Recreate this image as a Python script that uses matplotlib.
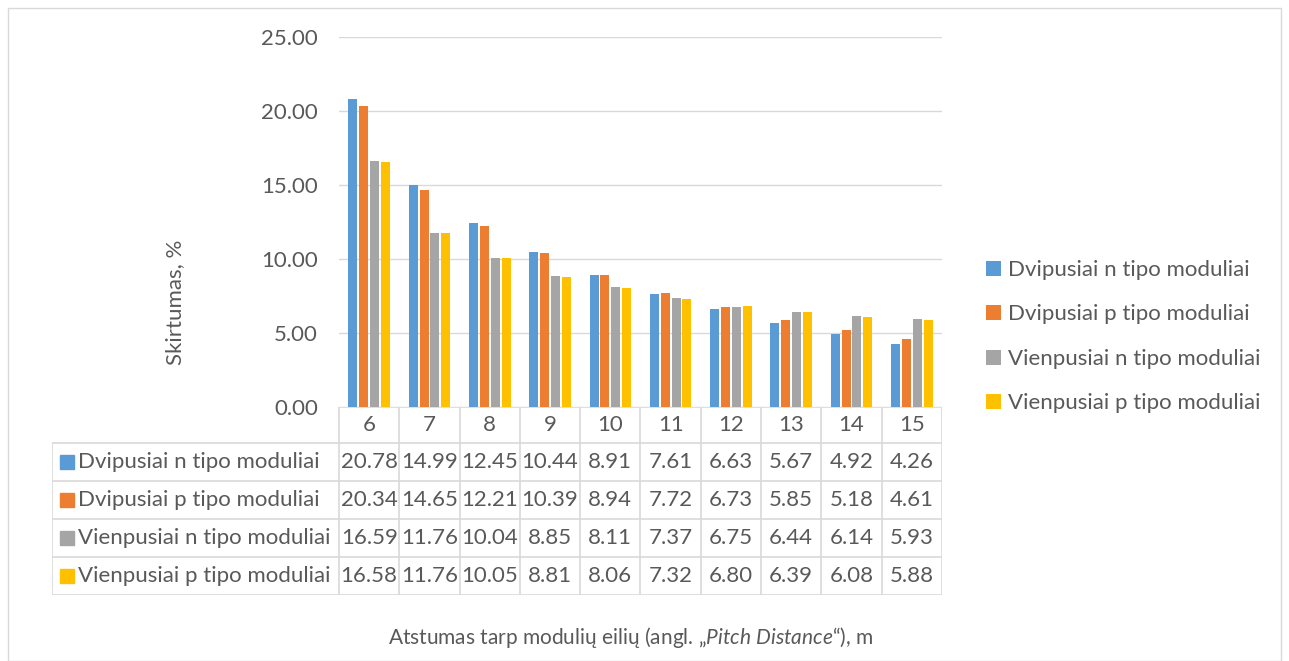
import numpy as np
import matplotlib.pyplot as plt
from matplotlib.patches import Rectangle

plt.rcParams['font.family'] = ['Lato', 'DejaVu Sans']
plt.rcParams['mathtext.fontset'] = 'custom'
plt.rcParams['mathtext.it'] = 'Lato:italic'
plt.rcParams['mathtext.rm'] = 'Lato'

distances = [6, 7, 8, 9, 10, 11, 12, 13, 14, 15]
series_names = ['Dvipusiai n tipo moduliai', 'Dvipusiai p tipo moduliai',
                'Vienpusiai n tipo moduliai', 'Vienpusiai p tipo moduliai']
dvi_n = [20.78, 14.99, 12.45, 10.44, 8.91, 7.61, 6.63, 5.67, 4.92, 4.26]
dvi_p = [20.34, 14.65, 12.21, 10.39, 8.94, 7.72, 6.73, 5.85, 5.18, 4.61]
vien_n = [16.59, 11.76, 10.04, 8.85, 8.11, 7.37, 6.75, 6.44, 6.14, 5.93]
vien_p = [16.58, 11.76, 10.05, 8.81, 8.06, 7.32, 6.80, 6.39, 6.08, 5.88]
series = [dvi_n, dvi_p, vien_n, vien_p]
colors = ['#5B9BD5', '#ED7D31', '#A5A5A5', '#FFC000']

txt = '#595959'
grid = '#D9D9D9'
fs = 16
W, H = 1289, 661

fig = plt.figure(figsize=(W / 100, H / 100), dpi=100)
fig.patches.append(Rectangle((8 / W, 0), 1273 / W, 653 / H, transform=fig.transFigure,
                             fill=False, edgecolor=grid, lw=1))

# main bar chart
ax = fig.add_axes([339 / W, 1 - 407 / H, 603 / W, 370 / H])
x = np.arange(len(distances))
bw = 0.15
step = 0.18
for i, (vals, c, name) in enumerate(zip(series, colors, series_names)):
    ax.bar(x + (i - 1.5) * step, vals, bw, color=c, label=name, zorder=3)
ax.set_xlim(-0.5, len(distances) - 0.5)
ax.set_ylim(0, 25)
ax.set_yticks(np.arange(0, 26, 5))
ax.set_yticklabels(['%.2f' % v for v in np.arange(0, 26, 5)], fontsize=fs, color=txt)
ax.set_xticks([])
ax.yaxis.grid(True, color=grid, lw=1, zorder=0)
ax.tick_params(axis='y', length=0, pad=15)
for s in ax.spines.values():
    s.set_visible(False)

leg = ax.legend(loc='center left', bbox_to_anchor=(1.04, 0.19), frameon=False,
                fontsize=fs, labelspacing=1.1, handlelength=0.65, handleheight=0.65,
                handletextpad=0.35)
for t in leg.get_texts():
    t.set_color(txt)

# data table under the chart
tab_left, tab_right = 52, 942
lab_w = (339 - tab_left) / (603 / len(distances))
tax = fig.add_axes([tab_left / W, 1 - 595 / H, (tab_right - tab_left) / W, 188 / H])
tax.set_xlim(-0.5 - lab_w, len(distances) - 0.5)
row_edges = [407, 443, 481, 519, 557, 595]
tax.set_ylim(595, 407)
tax.axis('off')
lc = '#D9D9D9'
# header row
for i, d in enumerate(distances):
    tax.text(i, (row_edges[0] + row_edges[1]) / 2, str(d), ha='center', va='center',
             fontsize=fs, color=txt)
for i in range(len(distances) + 1):
    tax.plot([i - 0.5, i - 0.5], [407, 595], color=lc, lw=1.2)
tax.plot([-0.5 - lab_w, -0.5 - lab_w], [443, 595], color=lc, lw=1.2)
tax.plot([-0.5, len(distances) - 0.5], [407, 407], color=lc, lw=1.2)
for y in row_edges[1:]:
    tax.plot([-0.5 - lab_w, len(distances) - 0.5], [y, y], color=lc, lw=1.2)
for r, (vals, c, name) in enumerate(zip(series, colors, series_names)):
    yc = (row_edges[r + 1] + row_edges[r + 2]) / 2
    tax.add_patch(Rectangle((-0.5 - lab_w + 0.14, yc - 7), 0.23, 14, color=c))
    tax.text(-0.5 - lab_w + 0.43, yc, name, ha='left', va='center', fontsize=fs, color=txt)
    for i, v in enumerate(vals):
        tax.text(i, yc, '%.2f' % v, ha='center', va='center', fontsize=fs, color=txt)

fig.text(175 / W, 1 - 302 / H, 'Skirtumas, %', rotation=90, ha='center', va='center',
         fontsize=fs, color=txt)
fig.text(631 / W, 1 - 637 / H, 'Atstumas tarp modulių eilių (angl. \u201e$\\it{Pitch\\ Distance}$\u201c), m',
         ha='center', va='center', fontsize=15, color=txt)

fig.savefig('out.png', dpi=100)
